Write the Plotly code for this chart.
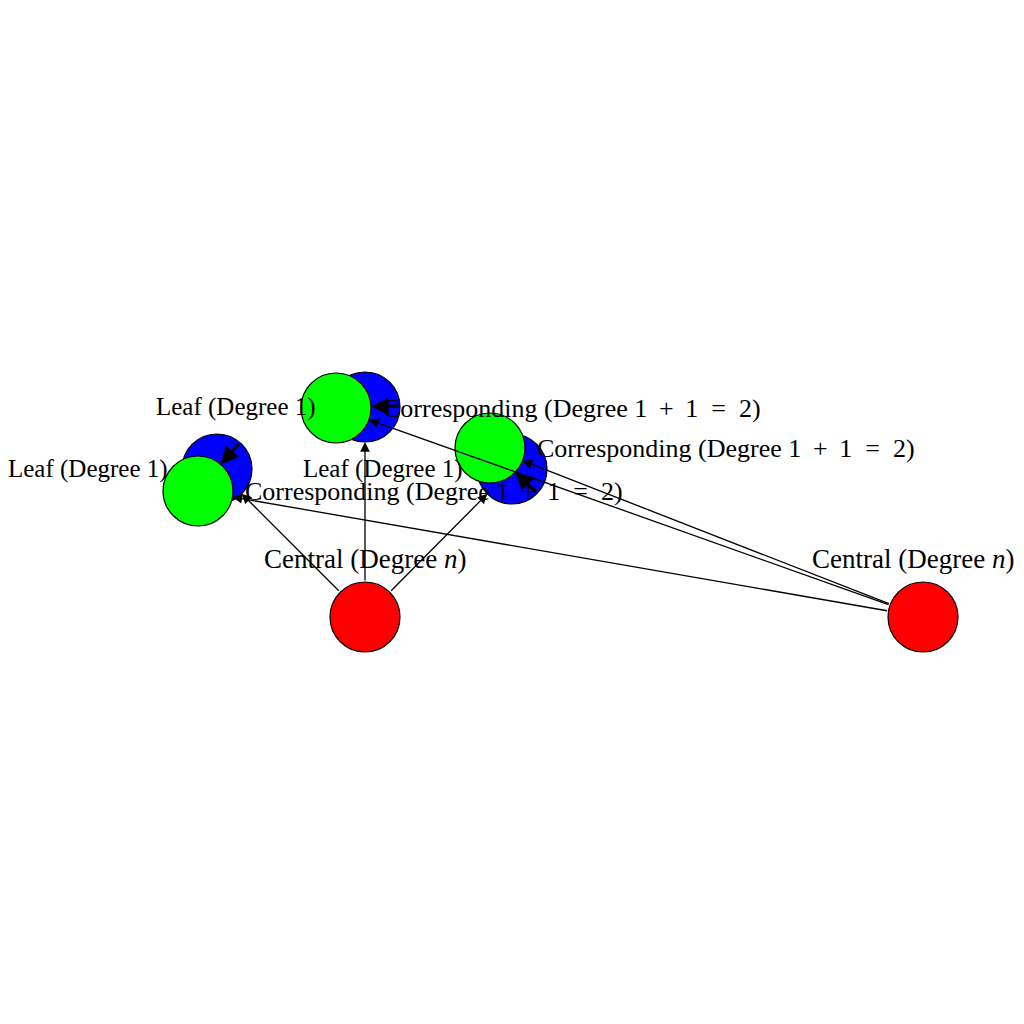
import numpy as np
import plotly.graph_objects as go

# node centres (pixel-like units, y grows downward)
node_names = ["c1", "c2", "b1", "b2", "b3", "g1", "g2", "g3"]
node_x = [365, 923, 217, 365, 512, 198, 336, 490]
node_y = [617, 617, 469, 407, 469, 491, 408, 448]
node_col = ["#ff0000", "#ff0000", "#0000ff", "#0000ff", "#0000ff",
            "#00ff00", "#00ff00", "#00ff00"]
R = 35  # node radius

# edges as (source, target)
edges = [("c1", "b1"), ("c1", "b2"), ("c1", "b3"),
         ("c2", "g1"), ("c2", "g2"), ("c2", "g3")]
# overlapping pairs, tikz draws these from the far border
close_edges = [("b1", "g1"), ("b2", "g2"), ("b3", "g3")]

central_label = "Central (Degree <i>n</i>)"
leaf_label = "Leaf (Degree 1)"
corr_label = "Corresponding (Degree 1 \u2009+ \u20091\u2002=\u20022)"

pos = {n: np.array([x, y], dtype=float) for n, x, y in zip(node_names, node_x, node_y)}

fig = go.Figure()

# blue first, green on top
for idx in range(len(node_names)):
    fig.add_trace(go.Scatter(x=[node_x[idx]], y=[node_y[idx]], mode="markers",
                             marker=dict(size=2 * R, color=node_col[idx],
                                         line=dict(color="black", width=1.2)),
                             hoverinfo="skip", showlegend=False))

ann = []
for s, t in edges:
    u = pos[t] - pos[s]
    u = u / np.linalg.norm(u)
    p0 = pos[s] + R * u
    p1 = pos[t] - R * u
    ann.append(dict(x=p1[0], y=p1[1], ax=p0[0], ay=p0[1], xref="x", yref="y",
                    axref="x", ayref="y", text="", showarrow=True,
                    arrowhead=2, arrowsize=1.5, arrowwidth=1.3, arrowcolor="black"))

for s, t in close_edges:
    u = pos[t] - pos[s]
    u = u / np.linalg.norm(u)
    p0 = pos[s] - R * u
    p1 = pos[t] - R * u
    ann.append(dict(x=p1[0], y=p1[1], ax=p0[0], ay=p0[1], xref="x", yref="y",
                    axref="x", ayref="y", text="", showarrow=True,
                    arrowhead=2, arrowsize=1.1, arrowwidth=3.2, arrowcolor="black"))

def serif(size):
    return dict(family="Liberation Serif", size=size, color="black")

for n, shift in [("c1", 0), ("c2", -10)]:
    ann.append(dict(x=pos[n][0], y=pos[n][1] - 58, text=central_label, showarrow=False,
                    xanchor="center", yanchor="middle", xshift=shift, font=serif(27)))
for n in ["b1", "b2", "b3"]:
    ann.append(dict(x=pos[n][0] - 47, y=pos[n][1], text=leaf_label, showarrow=False,
                    xanchor="right", yanchor="middle", font=serif(25)))
for n in ["g1", "g2", "g3"]:
    ann.append(dict(x=pos[n][0] + 45, y=pos[n][1], text=corr_label, showarrow=False,
                    xanchor="left", yanchor="middle", font=serif(26)))

# page body adds an 8px margin, so size the figure to avoid scrollbars and offset the ranges
fig.update_layout(annotations=ann, width=1016, height=1008,
                  margin=dict(l=0, r=0, t=0, b=0),
                  plot_bgcolor="white", paper_bgcolor="white",
                  xaxis=dict(range=[8, 1024], visible=False),
                  yaxis=dict(range=[1016, 8], visible=False))

fig.write_html("out.html")
